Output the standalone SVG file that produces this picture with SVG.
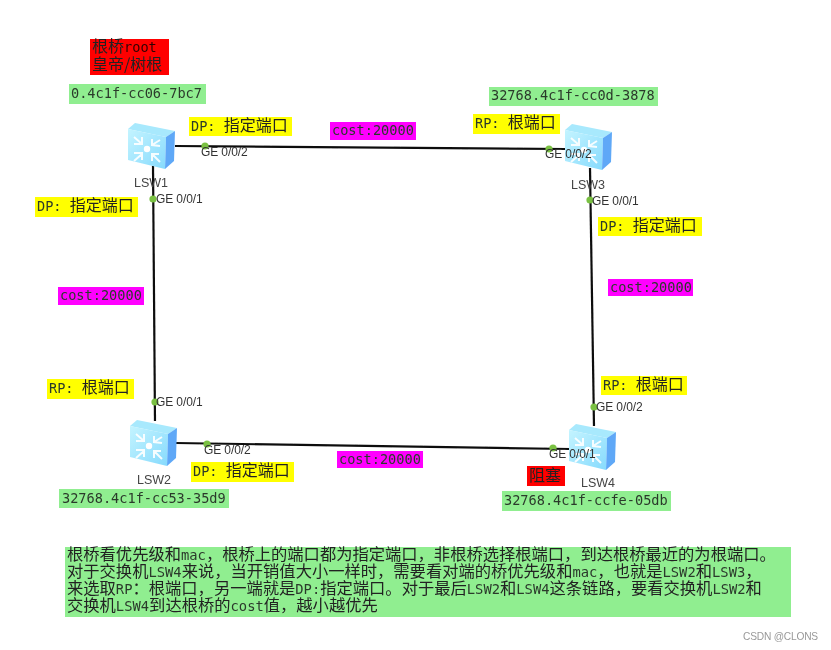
<svg xmlns="http://www.w3.org/2000/svg" width="831" height="650" viewBox="0 0 831 650">
<style>
text{font-family:"Noto Sans CJK SC","DejaVu Sans",sans-serif;font-size:16px;fill:#222;white-space:pre}
.m{font-family:"DejaVu Sans Mono",monospace;font-size:13.6px;fill:#2c3a2c}
.t{font-size:16.3px}
.t .m{font-size:13.8px}
#root-label .m{fill:#300}
.n{font-family:"Liberation Sans",sans-serif;font-size:12.5px;fill:#444}
.p{font-family:"Liberation Sans",sans-serif;font-size:12px;fill:#333;letter-spacing:-.1px}
.y{fill:#ffff00}.g{fill:#90ee90}.r{fill:#ff0000}.v{fill:#ff00ff}
.c{stroke:#111;stroke-width:2.2;fill:none}
.d{fill:#7ac143}
.ar{fill:none;stroke:#fff;stroke-width:2;stroke-opacity:.9}
.w{font-family:"Liberation Sans",sans-serif;font-size:10.2px;fill:#999;letter-spacing:-.2px}
svg>g,svg>text{filter:url(#b)}
</style>
<defs>
<filter id="b" x="-5%" y="-5%" width="110%" height="110%"><feGaussianBlur stdDeviation="0.4"/></filter>
<linearGradient id="fr" x1="0" y1="0" x2="1" y2="1"><stop offset="0" stop-color="#c4f4ff"/><stop offset="1" stop-color="#86dafd"/></linearGradient>
<g id="sw">
<polygon points="0,6 7,0 47,8 38,14" fill="#a8e9fd"/>
<polygon points="0,6 38,14 37,46 0,37" fill="url(#fr)"/>
<polygon points="38,14 47,8 46,38 37,46" fill="#5fa8f7"/>
<circle cx="19" cy="26" r="3.2" fill="#fff"/>
<path class="ar" d="M6,14L14,21M6,21h8v-7M32,17L24,22M32,23l-8,-1v-6M6,38L14,31M6,30h8v7M32,39L24,31M31,31h-7v7"/>
</g>
</defs>
<rect width="831" height="650" fill="#fff"/>
<g id="connectors">
<line class="c" x1="175" y1="146" x2="565" y2="149"/>
<line class="c" x1="153" y1="166" x2="155" y2="421"/>
<line class="c" x1="590" y1="168" x2="594" y2="426"/>
<line class="c" x1="176" y1="443" x2="570" y2="449"/>
</g>
<g id="LSW1"><use href="#sw" x="128" y="123"/><text class="n" x="134" y="187">LSW1</text></g>
<g id="LSW3"><use href="#sw" x="565" y="124"/><text class="n" x="571" y="189">LSW3</text></g>
<g id="LSW2"><use href="#sw" x="130" y="420"/><text class="n" x="137" y="484">LSW2</text></g>
<g id="LSW4"><use href="#sw" x="569" y="424"/><text class="n" x="581" y="487">LSW4</text></g>
<g id="ports">
<circle class="d" cx="205" cy="146" r="3.6"/><text class="p" x="201" y="156">GE 0/0/2</text>
<circle class="d" cx="549" cy="149" r="3.6"/><text class="p" x="545" y="158">GE 0/0/2</text>
<circle class="d" cx="153" cy="199" r="3.6"/><text class="p" x="156" y="203">GE 0/0/1</text>
<circle class="d" cx="590" cy="200" r="3.6"/><text class="p" x="592" y="205">GE 0/0/1</text>
<circle class="d" cx="155" cy="402" r="3.6"/><text class="p" x="156" y="406">GE 0/0/1</text>
<circle class="d" cx="594" cy="407" r="3.6"/><text class="p" x="596" y="411">GE 0/0/2</text>
<circle class="d" cx="207" cy="444" r="3.6"/><text class="p" x="204" y="454">GE 0/0/2</text>
<circle class="d" cx="553" cy="448" r="3.6"/><text class="p" x="549" y="458">GE 0/0/1</text>
</g>
<g id="root-label"><rect class="r" x="90" y="39" width="79" height="36"/>
<text x="92" y="52"><tspan>根桥</tspan><tspan class="m">root</tspan></text><text x="92" y="70">皇帝/树根</text></g>
<g id="block-label"><rect class="r" x="527" y="466" width="38" height="20"/><text x="529" y="481">阻塞</text></g>
<g id="bridge-ids">
<rect class="g" x="69" y="84" width="137" height="20"/><text class="m" x="71" y="98">0.4c1f-cc06-7bc7</text>
<rect class="g" x="489" y="87" width="169" height="19"/><text class="m" x="491" y="100">32768.4c1f-cc0d-3878</text>
<rect class="g" x="59" y="489" width="170" height="19"/><text class="m" x="62" y="503">32768.4c1f-cc53-35d9</text>
<rect class="g" x="502" y="491" width="169" height="20"/><text class="m" x="504" y="505">32768.4c1f-ccfe-05db</text>
</g>
<g id="port-roles">
<rect class="y" x="189" y="117" width="103" height="19"/><text x="191" y="131"><tspan class="m">DP: </tspan>指定端口</text>
<rect class="y" x="35" y="197" width="103" height="20"/><text x="37" y="211"><tspan class="m">DP: </tspan>指定端口</text>
<rect class="y" x="473" y="114" width="87" height="20"/><text x="475" y="128"><tspan class="m">RP: </tspan>根端口</text>
<rect class="y" x="598" y="217" width="104" height="19"/><text x="600" y="231"><tspan class="m">DP: </tspan>指定端口</text>
<rect class="y" x="47" y="379" width="87" height="20"/><text x="49" y="393"><tspan class="m">RP: </tspan>根端口</text>
<rect class="y" x="191" y="462" width="103" height="20"/><text x="193" y="476"><tspan class="m">DP: </tspan>指定端口</text>
<rect class="y" x="601" y="376" width="86" height="19"/><text x="603" y="390"><tspan class="m">RP: </tspan>根端口</text>
</g>
<g id="costs">
<rect class="v" x="330" y="122" width="86" height="18"/><text class="m" x="332" y="135">cost:20000</text>
<rect class="v" x="58" y="287" width="86" height="18"/><text class="m" x="60" y="300">cost:20000</text>
<rect class="v" x="608" y="279" width="85" height="17"/><text class="m" x="610" y="292">cost:20000</text>
<rect class="v" x="337" y="451" width="86" height="17"/><text class="m" x="339" y="464">cost:20000</text>
</g>
<g id="note">
<rect class="g" x="65" y="547" width="726" height="70"/>
<text class="t" x="67" y="560">根桥看优先级和<tspan class="m">mac</tspan>，根桥上的端口都为指定端口，非根桥选择根端口，到达根桥最近的为根端口。</text>
<text class="t" x="67" y="577">对于交换机<tspan class="m">LSW4</tspan>来说，当开销值大小一样时，需要看对端的桥优先级和<tspan class="m">mac</tspan>，也就是<tspan class="m">LSW2</tspan>和<tspan class="m">LSW3</tspan>，</text>
<text class="t" x="67" y="594">来选取<tspan class="m">RP</tspan>：根端口，另一端就是<tspan class="m">DP:</tspan>指定端口。对于最后<tspan class="m">LSW2</tspan>和<tspan class="m">LSW4</tspan>这条链路，要看交换机<tspan class="m">LSW2</tspan>和</text>
<text class="t" x="67" y="611">交换机<tspan class="m">LSW4</tspan>到达根桥的<tspan class="m">cost</tspan>值，越小越优先</text>
</g>
<text class="w" x="743" y="640">CSDN @CLONS</text>
</svg>
